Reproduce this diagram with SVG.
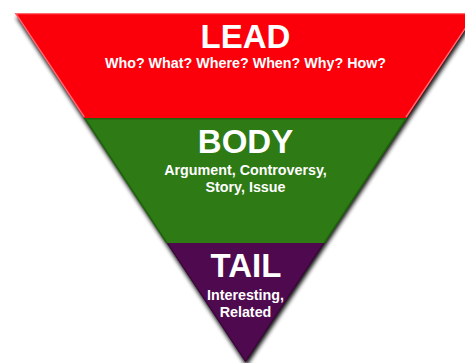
<svg xmlns="http://www.w3.org/2000/svg" width="465" height="363" viewBox="0 0 465 363">
  <defs>
    <filter id="shadow" x="-10%" y="-10%" width="130%" height="130%">
      <feGaussianBlur in="SourceAlpha" stdDeviation="2"/>
      <feOffset dx="1" dy="4" result="b"/>
      <feComponentTransfer><feFuncA type="linear" slope="0.95"/></feComponentTransfer>
      <feMerge><feMergeNode/><feMergeNode in="SourceGraphic"/></feMerge>
    </filter>
  </defs>
  <style>
    .title { font-family: "Liberation Sans", Arial, sans-serif; font-weight: bold; font-size: 33px; fill: #ffffff; text-anchor: middle; }
    .sub { font-family: "Liberation Sans", Arial, sans-serif; font-weight: bold; font-size: 14.3px; fill: #ffffff; text-anchor: middle; }
  </style>
  <rect width="465" height="363" fill="#ffffff"/>
  <polygon points="15,13 476,13 245.5,362" fill="#000" filter="url(#shadow)"/>
  <g id="lead">
    <polygon points="15,13 476,13 406.7,118 84.3,118" fill="#fb000b"/>
    <polyline points="84.3,117 15.8,13.6 475.2,13.6 406,117" fill="none" stroke="#ff6a72" stroke-width="1.4"/>
    <text class="title" x="245.5" y="48">LEAD</text>
    <text class="sub" x="245.5" y="68">Who? What? Where? When? Why? How?</text>
  </g>
  <g id="body">
    <polygon points="84.3,118 406.7,118 324.1,243 166.9,243" fill="#2e7a15"/>
    <polyline points="166.9,243 85.2,118.8 405.8,118.8 324.1,243" fill="none" stroke="#1f640b" stroke-width="1.6"/>
    <text class="title" x="245.5" y="153">BODY</text>
    <text class="sub" x="245.5" y="175">Argument, Controversy,</text>
    <text class="sub" x="245.5" y="192">Story, Issue</text>
  </g>
  <g id="tail">
    <polygon points="166.9,243 324.1,243 245.5,362" fill="#4f0a4f"/>
    <polyline points="167.8,243.5 245.5,361 323.2,243.5" fill="none" stroke="#3e063e" stroke-width="1.2"/>
    <text class="title" x="246" y="277" font-size="32">TAIL</text>
    <text class="sub" x="245.5" y="300">Interesting,</text>
    <text class="sub" x="245.5" y="317">Related</text>
  </g>
  <g id="connectors"/>
</svg>
